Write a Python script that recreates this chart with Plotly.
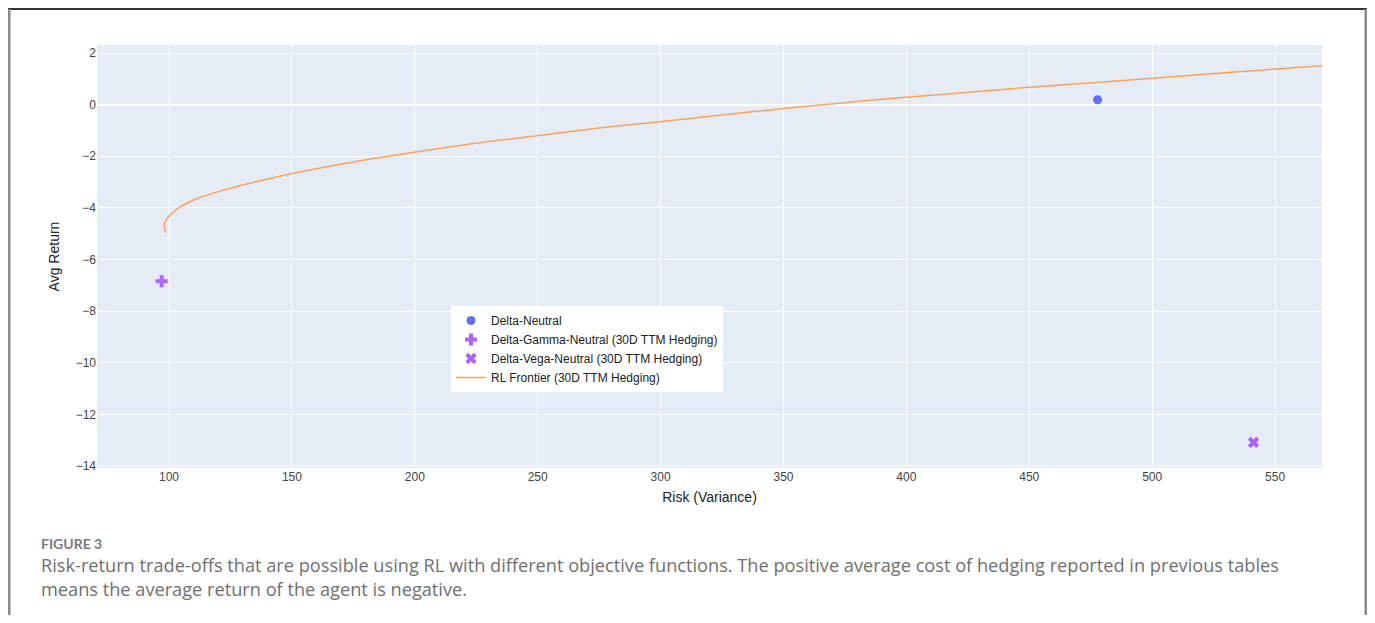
import plotly.graph_objects as go

# ---- data ----
dn_risk = [477.8]
dn_ret = [0.19]

dgn_risk = [97.0]
dgn_ret = [-6.84]

dvn_risk = [541.2]
dvn_ret = [-13.09]

rl_risk = [98.8, 98.2, 98.1, 98.6, 100.4, 103.0, 105.8, 112.6, 119.4, 132.9,
           149.5, 175.0, 199.7, 225.0, 249.7, 275.0, 299.6, 350.0, 400.0,
           450.0, 500.0, 550.0, 569.5]
rl_ret = [-4.97, -4.80, -4.67, -4.50, -4.28, -4.07, -3.89, -3.60, -3.39, -3.05,
          -2.68, -2.22, -1.85, -1.50, -1.21, -0.91, -0.66, -0.15, 0.29,
          0.67, 1.02, 1.38, 1.51]

x_range = [70.7, 569.1]
y_range = [-14.08, 2.31]

# page body has an 8px margin; all target positions below are page pixels
OFF = 8
W, H = 1359, 607
PL, PR, PT, PB = 97, 1322, 45, 468          # plot area in page pixels
L, T = PL - OFF, PT - OFF
R = W - (PR - OFF)
B = H - (PB - OFF)
PW, PH = PR - PL, PB - PT


def px(xp):
    return (xp - PL) / PW


def py(yp):
    return (PB - yp) / PH


FONT = "Arial, Liberation Sans, sans-serif"
TXT = "#444444"

fig = go.Figure()
fig.add_trace(go.Scatter(x=dn_risk, y=dn_ret, mode="markers", name="Delta-Neutral",
                         marker=dict(color="#636efa", size=9, symbol="circle")))
fig.add_trace(go.Scatter(x=dgn_risk, y=dgn_ret, mode="markers",
                         name="Delta-Gamma-Neutral (30D TTM Hedging)",
                         marker=dict(color="#ab63fa", size=10, symbol="cross")))
fig.add_trace(go.Scatter(x=dvn_risk, y=dvn_ret, mode="markers",
                         name="Delta-Vega-Neutral (30D TTM Hedging)",
                         marker=dict(color="#ab63fa", size=10, symbol="x")))
fig.add_trace(go.Scatter(x=rl_risk, y=rl_ret, mode="lines",
                         name="RL Frontier (30D TTM Hedging)",
                         line=dict(color="#FFA15A", width=1.5, shape="spline")))

fig.update_layout(
    template="plotly",
    width=W, height=H,
    margin=dict(l=L, r=R, t=T, b=B),
    font=dict(family=FONT, size=12, color=TXT),
    paper_bgcolor="white",
    plot_bgcolor="#E5ECF6",
    legend=dict(x=px(451), y=py(306), xanchor="left", yanchor="top",
                bgcolor="white", font=dict(size=12, color="#222222")),
    xaxis=dict(title=dict(text="Risk (Variance)", font=dict(size=14, color="#222222"),
                          standoff=9),
               automargin=False,
               range=x_range, dtick=50, tick0=0, gridcolor="white",
               zeroline=False, tickfont=dict(size=12, color=TXT)),
    yaxis=dict(title=dict(text="Avg Return", font=dict(size=14, color="#222222"),
                          standoff=12),
               automargin=False,
               range=y_range, dtick=2, tick0=0, gridcolor="white",
               zeroline=True, zerolinecolor="white", zerolinewidth=2,
               tickfont=dict(size=12, color=TXT)),
)

# frame around the figure
fig.add_shape(type="line", xref="paper", yref="paper",
              x0=px(8), x1=px(1367), y0=py(9), y1=py(9),
              line=dict(color="#333333", width=2))
fig.add_shape(type="line", xref="paper", yref="paper",
              x0=px(9), x1=px(9), y0=py(9), y1=py(640),
              line=dict(color="#8a8a8a", width=3))
fig.add_shape(type="line", xref="paper", yref="paper",
              x0=px(1366), x1=px(1366), y0=py(9), y1=py(640),
              line=dict(color="#8a8a8a", width=3))

fig.add_annotation(text="<b>FIGURE 3</b>", xref="paper", yref="paper",
                   x=px(39), y=py(543), xanchor="left", yanchor="middle",
                   showarrow=False, font=dict(family="Lato, sans-serif", size=14,
                                              color="#7a7a7a"))
CAP = "Open Sans, Lato, sans-serif"
fig.add_annotation(text=("Risk-return trade-offs that are possible using RL with different "
                         "objective functions. The positive average cost of hedging reported "
                         "in previous tables"),
                   xref="paper", yref="paper", x=px(39), y=py(565),
                   xanchor="left", yanchor="middle", showarrow=False,
                   font=dict(family=CAP, size=18.2, color="#707070"))
fig.add_annotation(text="means the average return of the agent is negative.",
                   xref="paper", yref="paper", x=px(39), y=py(589),
                   xanchor="left", yanchor="middle", showarrow=False,
                   font=dict(family=CAP, size=18.2, color="#707070"))

fig.write_html("out.html")
